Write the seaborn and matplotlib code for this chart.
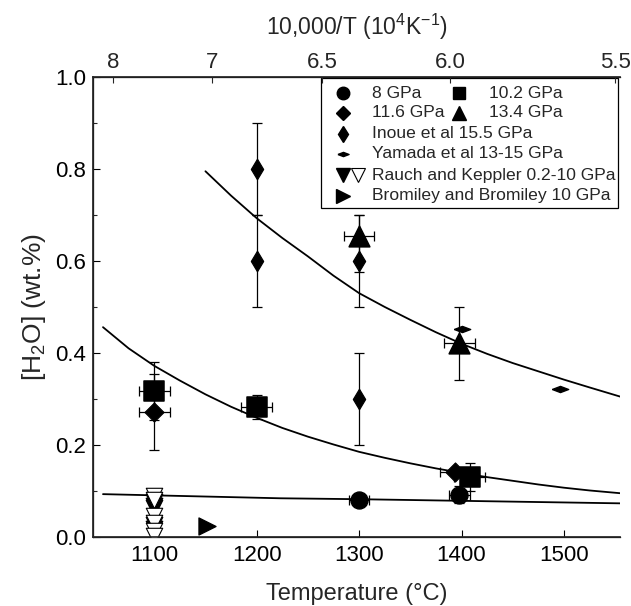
import numpy as np
import pandas as pd
import matplotlib
matplotlib.use("Agg")
import matplotlib.pyplot as plt
import seaborn as sns
from matplotlib.patches import Rectangle

# --- data ---
gpa8_T = [1300, 1398]
gpa8_w = [0.080, 0.092]
gpa8_xerr = [10, 10]
gpa8_yerr = [0.0, 0.018]

gpa102_T = [1100, 1200, 1408]
gpa102_w = [0.317, 0.283, 0.130]
gpa102_xerr = [15, 15, 15]
gpa102_yerr = [0.063, 0.026, 0.030]

gpa116_T = [1100, 1394]
gpa116_w = [0.272, 0.142]
gpa116_xerr = [15, 15]
gpa116_yerr = [0.082, 0.0]

gpa134_T = [1300, 1398]
gpa134_w = [0.655, 0.422]
gpa134_xerr = [15, 15]
gpa134_yerr_lo = [0.080, 0.080]
gpa134_yerr_hi = [0.045, 0.078]

inoue_T = [1200, 1200, 1300, 1300]
inoue_w = [0.80, 0.60, 0.60, 0.30]
inoue_yerr = [0.10, 0.10, 0.10, 0.10]

yamada_T = [1400, 1496]
yamada_w = [0.452, 0.322]

rauch_fill_T = [1100, 1100, 1100, 1100, 1100]
rauch_fill_w = [0.075, 0.068, 0.062, 0.025, 0.018]
rauch_open_T = [1100, 1100, 1100, 1100, 1100, 1100]
rauch_open_w = [0.088, 0.080, 0.045, 0.030, 0.012, 0.003]

bromiley_T = [1152]
bromiley_w = [0.024]

# fitted curves
fit_hi_T = [1150, 1175, 1200, 1225, 1250, 1275, 1300, 1325, 1350, 1375, 1400,
            1425, 1450, 1475, 1500, 1525, 1555]
fit_hi_w = [0.795, 0.742, 0.693, 0.650, 0.610, 0.568, 0.530, 0.500, 0.472, 0.445, 0.420,
            0.398, 0.378, 0.360, 0.342, 0.325, 0.305]
fit_mid_T = [1050, 1075, 1100, 1125, 1150, 1175, 1200, 1225, 1250, 1275, 1300, 1325,
             1350, 1375, 1400, 1425, 1450, 1475, 1500, 1525, 1555]
fit_mid_w = [0.456, 0.410, 0.372, 0.340, 0.310, 0.283, 0.259, 0.237, 0.218, 0.201, 0.185, 0.172,
             0.160, 0.149, 0.139, 0.130, 0.122, 0.114, 0.107, 0.101, 0.095]
fit_lo_T = [1050, 1223, 1300, 1555]
fit_lo_w = [0.093, 0.084, 0.082, 0.073]

# top axis: 10,000/T labels and where they sit on the temperature scale
top_labels = ["8", "7", "6.5", "6.0", "5.5"]
top_pos = [1060, 1156, 1264, 1389, 1550]

sns.set_theme(style="ticks")
plt.rcParams['font.family'] = ['Liberation Sans', 'DejaVu Sans']
plt.rcParams['mathtext.fontset'] = 'custom'
plt.rcParams['mathtext.rm'] = 'Liberation Sans'
plt.rcParams['mathtext.it'] = 'Liberation Sans'

fig = plt.figure(figsize=(6.31, 6.06), dpi=100)
ax = fig.add_axes([0.147, 0.114, 0.836, 0.759])

k = 'black'
eb = dict(fmt='none', ecolor=k, elinewidth=0.9, capsize=3.5, capthick=0.9, zorder=2)

# curves
for T, w in [(fit_hi_T, fit_hi_w), (fit_mid_T, fit_mid_w), (fit_lo_T, fit_lo_w)]:
    sns.lineplot(x=T, y=w, ax=ax, color=k, lw=1.3, sort=False, zorder=1)

# error bars
ax.errorbar(gpa8_T, gpa8_w, xerr=gpa8_xerr, yerr=gpa8_yerr, **eb)
ax.errorbar(gpa102_T, gpa102_w, xerr=gpa102_xerr, yerr=gpa102_yerr, **eb)
ax.errorbar(gpa116_T, gpa116_w, xerr=gpa116_xerr, yerr=gpa116_yerr, **eb)
ax.errorbar(gpa134_T, gpa134_w, xerr=gpa134_xerr,
            yerr=[gpa134_yerr_lo, gpa134_yerr_hi], **eb)
ax.errorbar(inoue_T, inoue_w, yerr=inoue_yerr, **eb)

# markers
yam_marker = [(-1, 0), (0, 0.38), (1, 0), (0, -0.38), (-1, 0)]
sns.scatterplot(x=gpa8_T, y=gpa8_w, ax=ax, marker='o', s=150, color=k, edgecolor=k, zorder=3)
sns.scatterplot(x=gpa102_T, y=gpa102_w, ax=ax, marker='s', s=190, color=k, edgecolor=k, zorder=3)
sns.scatterplot(x=gpa116_T, y=gpa116_w, ax=ax, marker='D', s=95, color=k, edgecolor=k, zorder=3)
sns.scatterplot(x=gpa134_T, y=gpa134_w, ax=ax, marker='^', s=220, color=k, edgecolor=k, zorder=3)
sns.scatterplot(x=inoue_T, y=inoue_w, ax=ax, marker='d', s=110, color=k, edgecolor=k, zorder=3)
sns.scatterplot(x=yamada_T, y=yamada_w, ax=ax, marker=yam_marker, s=140, color=k, edgecolor=k, zorder=3)
sns.scatterplot(x=rauch_fill_T, y=rauch_fill_w, ax=ax, marker='v', s=140, color=k, edgecolor=k, zorder=3)
sns.scatterplot(x=rauch_open_T, y=rauch_open_w, ax=ax, marker='v', s=140, facecolor='white',
                edgecolor=k, linewidth=0.8, zorder=4)
sns.scatterplot(x=bromiley_T, y=bromiley_w, ax=ax, marker='>', s=150, color=k, edgecolor=k, zorder=3)

ax.set_xlim(1040, 1555)
ax.set_ylim(0, 1.0)
ax.set_xticks([1100, 1200, 1300, 1400, 1500])
ax.set_yticks([0.0, 0.2, 0.4, 0.6, 0.8, 1.0])
ax.set_yticklabels(["0.0", "0.2", "0.4", "0.6", "0.8", "1.0"])
ax.set_yticks(np.arange(0.1, 1.0, 0.2), minor=True)
ax.tick_params(axis='both', direction='in', labelsize=16, length=5, width=0.8, colors=k)
ax.tick_params(axis='y', which='minor', direction='in', length=3, width=0.8)
ax.tick_params(axis='x', pad=6)
ax.tick_params(axis='y', pad=5)
ax.set_xlabel("Temperature (°C)", fontsize=17, labelpad=12)
ax.set_ylabel("[H$_2$O] (wt.%)", fontsize=19, labelpad=5)
ax.spines['right'].set_visible(False)
for s in ['left', 'bottom', 'top']:
    ax.spines[s].set_linewidth(0.9)
    ax.spines[s].set_color(k)

top = ax.twiny()
top.set_xlim(ax.get_xlim())
top.set_xticks(top_pos)
top.set_xticklabels(top_labels)
top.tick_params(axis='x', direction='in', labelsize=16, length=4, width=0.8, pad=3)
top.spines['right'].set_visible(False)
top.set_xlabel("10,000/T (10$^4$K$^{-1}$)", fontsize=16.5, labelpad=12)
top.grid(False)

# legend box drawn by hand (mixed one/two-column rows)
ax.add_patch(Rectangle((0.433, 0.715), 0.562, 0.283, transform=ax.transAxes,
                       fill=True, facecolor='white', edgecolor=k, lw=0.9, zorder=5))
rows = [0.965, 0.922, 0.877, 0.833, 0.786, 0.742]
mx1, mx1b, tx1, mx2, tx2 = 0.474, 0.502, 0.529, 0.694, 0.751
lg = dict(transform=ax.transAxes, color=k, zorder=6, clip_on=False, linestyle='none')
ax.plot([mx1], [rows[0]], marker='o', ms=9, **lg)
ax.plot([mx2], [rows[0]], marker='s', ms=9, **lg)
ax.plot([mx1], [rows[1]], marker='D', ms=7, **lg)
ax.plot([mx2], [rows[1]], marker='^', ms=10, **lg)
ax.plot([mx1], [rows[2]], marker='d', ms=8, **lg)
ax.plot([mx1], [rows[3]], marker=yam_marker, ms=8, **lg)
ax.plot([mx1], [rows[4]], marker='v', ms=10, **lg)
ax.plot([mx1b], [rows[4]], marker='v', ms=10, mfc='white', mec=k, mew=0.8,
        transform=ax.transAxes, zorder=6, linestyle='none')
ax.plot([mx1], [rows[5]], marker='>', ms=10, **lg)
legend_text = [(tx1, rows[0], "8 GPa"), (tx2, rows[0], "10.2 GPa"),
               (tx1, rows[1], "11.6 GPa"), (tx2, rows[1], "13.4 GPa"),
               (tx1, rows[2], "Inoue et al 15.5 GPa"),
               (tx1, rows[3], "Yamada et al 13-15 GPa"),
               (tx1, rows[4], "Rauch and Keppler 0.2-10 GPa"),
               (tx1, rows[5], "Bromiley and Bromiley 10 GPa")]
for x, y, t in legend_text:
    ax.text(x, y, t, transform=ax.transAxes, fontsize=12.6, va='center', ha='left', zorder=6)

fig.savefig("out.png", dpi=100)
